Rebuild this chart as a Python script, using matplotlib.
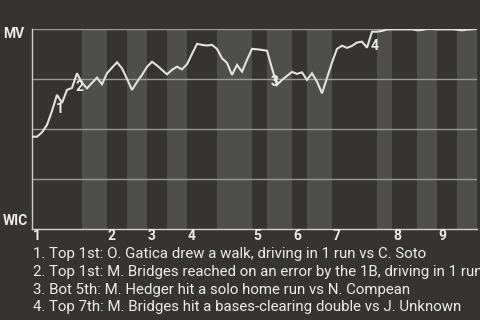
import matplotlib
matplotlib.use("Agg")
import matplotlib.pyplot as plt
import numpy as np

plt.rcParams['font.family'] = ['Roboto', 'DejaVu Sans']

# Teams: visitor at the top of the chart, home at the bottom
away_team = "MV"
home_team = "WIC"

# Number of plate-appearance events in each half inning (top 1st, bot 1st, ...)
half_inning_events = [10, 5, 4, 4, 4, 4, 6, 7, 3, 5, 3, 5, 9, 3, 5, 4, 4, 4]

# MV win probability after each event
mv_win_prob = [
    0.459, 0.459, 0.481, 0.518, 0.588, 0.668, 0.628, 0.693, 0.703, 0.776,
    0.728, 0.701, 0.728, 0.754, 0.721, 0.776, 0.804, 0.831, 0.801, 0.748,
    0.693, 0.733, 0.768, 0.808, 0.834, 0.815, 0.793, 0.771, 0.793, 0.809,
    0.796, 0.821, 0.873, 0.923, 0.918, 0.915, 0.918, 0.898, 0.851, 0.828,
    0.768, 0.818, 0.784, 0.843, 0.898, 0.896, 0.893, 0.889, 0.801, 0.718,
    0.743, 0.763, 0.783, 0.773, 0.781, 0.743, 0.776, 0.734, 0.676, 0.753,
    0.830, 0.898, 0.914, 0.903, 0.913, 0.930, 0.934, 0.904, 0.984, 0.984,
    0.988, 0.995, 0.996, 0.996, 0.996, 0.996, 0.996, 0.991, 0.993, 0.998,
    0.998, 0.996, 0.996, 0.996, 0.996, 0.994, 0.991, 0.994, 0.996, 1.000,
]

inning_labels = ["1", "2", "3", "4", "5", "6", "7", "8", "9"]

# Key plays: event index and marker text
key_event_index = [5, 9, 48, 68]
key_event_marks = ["1", "2", "3", "4"]
key_event_notes = [
    "1. Top 1st: O. Gatica drew a walk, driving in 1 run vs C. Soto",
    "2. Top 1st: M. Bridges reached on an error by the 1B, driving in 1 run",
    "3. Bot 5th: M. Hedger hit a solo home run vs N. Compean",
    "4. Top 7th: M. Bridges hit a bases-clearing double vs J. Unknown",
]

BG = "#353431"
BAND = "#4e4e4c"
GRID = "#9a9a98"
AXIS = "#cfcfcd"
LINE = "#e2e2e2"
TEXT = "#ececec"

W, H = 480, 320
fig = plt.figure(figsize=(W / 100, H / 100), dpi=100, facecolor=BG)
ax = fig.add_axes([32 / W, (H - 228.5) / H, 445 / W, 200 / H])
ax.set_facecolor(BG)

bounds = np.concatenate([[0], np.cumsum(half_inning_events)])
for i in range(len(half_inning_events)):
    if i % 2 == 1:
        ax.axvspan(bounds[i], bounds[i + 1], color=BAND, lw=0, zorder=0)

for y in (0.25, 0.5, 0.75, 1.0):
    ax.axhline(y, color=GRID, lw=1.0, zorder=1)

x = np.arange(len(mv_win_prob))
ax.plot(x, mv_win_prob, color=LINE, lw=1.5, zorder=3, solid_joinstyle="miter")

ax.set_xlim(0, bounds[-1])
ax.set_ylim(0, 1)
for side in ("top", "right"):
    ax.spines[side].set_visible(False)
for side in ("left", "bottom"):
    ax.spines[side].set_color(AXIS)
    ax.spines[side].set_linewidth(1.0)
ax.set_xticks([])
ax.set_yticks([])

# Inning numbers at the start of each inning
for k, lab in enumerate(inning_labels):
    ax.annotate(lab, xy=(bounds[2 * k], 0), xytext=(1, -1),
                textcoords="offset pixels", ha="left", va="top",
                fontsize=10, fontweight="bold", color=TEXT)

# Key play markers
for idx, mark in zip(key_event_index, key_event_marks):
    ax.annotate(mark, xy=(idx, mv_win_prob[idx]), xytext=(3, -14),
                textcoords="offset pixels", ha="center", va="center",
                fontsize=10, fontweight="bold", color=TEXT, zorder=4)

# Team labels
fig.text(3 / W, 1 - 27 / H, away_team, ha="left", va="top",
         fontsize=10, fontweight="bold", color=TEXT)
fig.text(3 / W, 1 - 225 / H, home_team, ha="left", va="baseline",
         fontsize=10, fontweight="bold", color=TEXT)

# Play descriptions
for j, note in enumerate(key_event_notes):
    fig.text(33 / W, 1 - (258 + 17.8 * j) / H, note, ha="left",
             va="baseline", fontsize=10.8, color=TEXT)

fig.savefig("out.png", dpi=100, facecolor=BG)
